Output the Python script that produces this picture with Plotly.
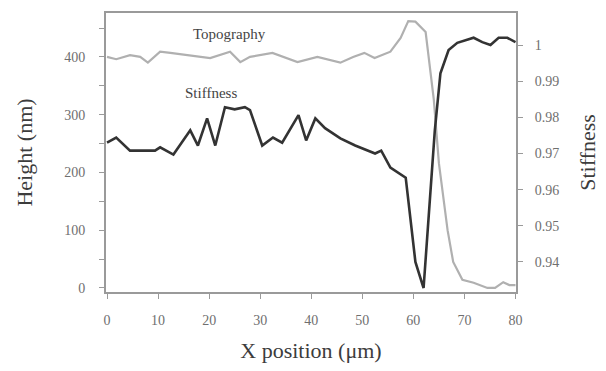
import plotly.graph_objects as go

topo_x = [0, 1.8, 4.5, 6.5, 8, 10.4, 12.4, 14.3, 17.3, 20.2, 24.1, 26.1, 28, 32.4, 37.3, 41.2,
          45.7, 48.2, 50.4, 52.4, 55.5, 57.5, 59, 60.4, 62.4, 64, 65, 66.7, 67.8, 69.6, 71.8,
          74.5, 76, 77.6, 78.8, 80]
topo_h = [400, 396, 403, 400, 390, 409, 407, 405, 402, 398, 409, 391, 400, 407, 391, 400,
          390, 400, 407, 398, 409, 433, 462, 461, 443, 326, 216, 100, 45, 14, 9,
          0, 0, 10, 5, 5]

stiff_x = [0, 1.8, 4.5, 9.4, 10.4, 13, 16.3, 17.8, 19.6, 21.2, 23.1, 25, 27, 28, 30.4, 32.5,
           34.3, 37.5, 39, 40.8, 42.7, 45.7, 48.6, 52.5, 53.7, 55.5, 58.5, 60.4, 62, 64.2,
           65.3, 66.9, 68.6, 71.8, 73.5, 75.1, 76.7, 78.4, 80]
stiff_s = [0.973, 0.9744, 0.9708, 0.9708, 0.9717, 0.9697, 0.9764, 0.9722, 0.9797, 0.9722,
           0.9828, 0.9822, 0.9828, 0.982, 0.9722, 0.9744, 0.973, 0.9806, 0.9736, 0.9797,
           0.977, 0.9742, 0.9722, 0.970, 0.9708, 0.9661, 0.9633, 0.940, 0.9328, 0.9764,
           0.9922, 0.9986, 1.0006, 1.002, 1.0008, 1.0, 1.002, 1.002, 1.0008]

x_ticks = [0, 10, 20, 30, 40, 50, 60, 70, 80]
h_ticks = [0, 100, 200, 300, 400]
s_ticks = [0.94, 0.95, 0.96, 0.97, 0.98, 0.99, 1.0]
s_labels = ["0.94", "0.95", "0.96", "0.97", "0.98", "0.99", "1"]

FONT = "Liberation Serif"
AX = "#9a9a9a"
TXT = "#6f6f6f"
TITLE = "#3c3c3c"

fig = go.Figure()
fig.add_trace(go.Scatter(x=topo_x, y=topo_h, mode="lines", name="Topography",
                         line=dict(color="#b0b0b0", width=2.2), yaxis="y"))
fig.add_trace(go.Scatter(x=stiff_x, y=stiff_s, mode="lines", name="Stiffness",
                         line=dict(color="#333333", width=2.6), yaxis="y2"))

# page has an 8px body margin, so the figure is sized to fit the 606x371 window
fig.update_layout(
    width=598, height=363,
    margin=dict(l=98, r=90, t=5, b=79, autoexpand=False),
    paper_bgcolor="white", plot_bgcolor="white",
    showlegend=False,
    font=dict(family=FONT, color=TXT, size=14),
    xaxis=dict(range=[-0.2, 80.1], tickvals=x_ticks, ticks="outside", ticklen=5,
               tickcolor=AX, showline=True, linecolor=AX, linewidth=2, mirror=True,
               showgrid=False, zeroline=False, tickfont=dict(size=14, color=TXT),
               automargin=False, ticklabelstandoff=9,
               title=dict(text="X position (μm)", font=dict(size=22, color=TITLE), standoff=16)),
    yaxis=dict(range=[-7, 476], tickvals=h_ticks, ticks="outside", ticklen=5,
               tickcolor=AX, showline=True, linecolor=AX, linewidth=2,
               showgrid=False, zeroline=False, tickfont=dict(size=14, color=TXT),
               ticklabelstandoff=11, automargin=False,
               minor=dict(tickvals=[50, 150, 250, 350, 450], ticks="outside", ticklen=5, tickcolor=AX),
               title=dict(text="Height (nm)", font=dict(size=22, color=TITLE), standoff=26)),
    yaxis2=dict(range=[0.9317, 1.00885], tickvals=s_ticks, ticktext=s_labels, overlaying="y",
                side="right", ticks="outside", ticklen=5, tickcolor=AX, showline=True,
                linecolor=AX, linewidth=2, showgrid=False, zeroline=False,
                tickfont=dict(size=14, color=TXT), ticklabelstandoff=9, automargin=False,
                title=dict(text="Stiffness", font=dict(size=22, color=TITLE), standoff=21)),
)

fig.add_annotation(text="Topography", x=24, y=440, xref="x", yref="y", showarrow=False,
                   font=dict(size=15, color="#444444", family=FONT))
fig.add_annotation(text="Stiffness", x=20.3, y=338, xref="x", yref="y", showarrow=False,
                   font=dict(size=15, color="#444444", family=FONT))

fig.write_html("out.html")
